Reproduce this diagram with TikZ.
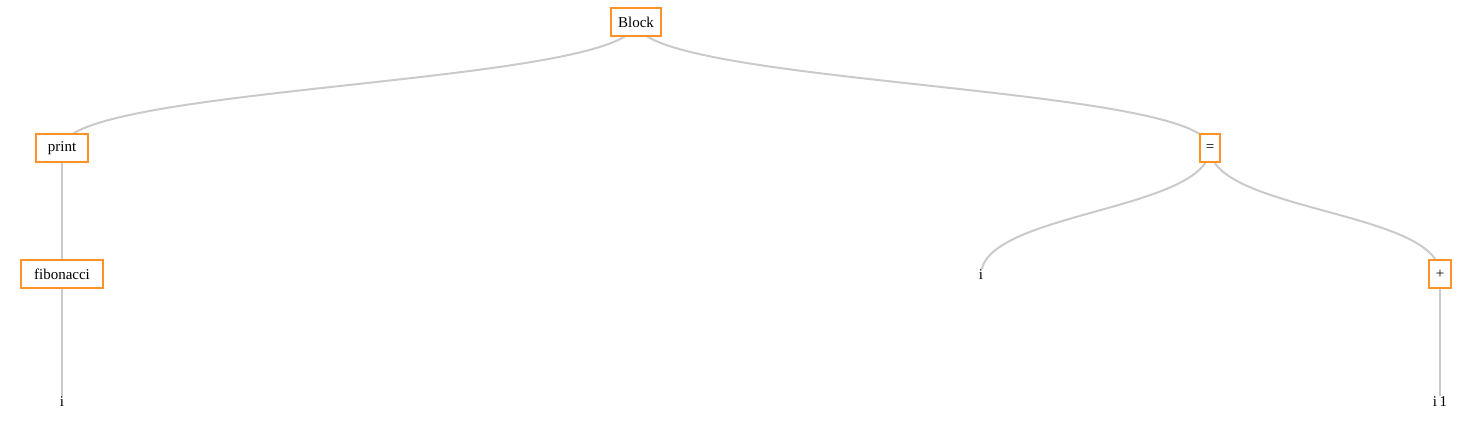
\documentclass[tikz,border=0pt]{standalone}
\usepackage{fontspec}
\setmainfont{Liberation Serif}
\usetikzlibrary{backgrounds}
\definecolor{boxorange}{RGB}{255,146,38}
\definecolor{linkgray}{RGB}{202,202,202}
\tikzset{
  opbox/.style={draw=boxorange, line width=1.5pt, fill=white, inner xsep=3pt, inner ysep=0pt, minimum height=21pt, font=\fontsize{11.25}{13}\selectfont},
  leaf/.style={fill=white, inner sep=0.6pt, font=\fontsize{11.25}{13}\selectfont},
  link/.style={draw=linkgray, line width=1.5pt}
}
\begin{document}
\begin{tikzpicture}[x=0.75pt, y=-0.75pt]
\useasboundingbox (0,0) rectangle (1483,445);
\node[opbox, minimum width=38pt] (block) at (636,22) {Block};
\node[opbox, minimum width=38.5pt] (print) at (62,148) {print};
\node[opbox, minimum width=61pt] (fib) at (62,274) {fibonacci};
\node[leaf] (i1) at (62,402) {i};
\node[opbox, minimum width=15.5pt] (assign) at (1210,148) {=};
\node[leaf] (i2) at (981,275) {i};
\node[opbox, minimum width=16pt] (plus) at (1440,274) {+};
\node[leaf] (i3) at (1440,402) {i\,1};
\begin{scope}[on background layer]
\draw[link] (block.center) .. controls +(0,63) and +(0,-63) .. (print.center);
\draw[link] (block.center) .. controls +(0,63) and +(0,-63) .. (assign.center);
\draw[link] (print.center) -- (fib.center);
\draw[link] (fib.center) -- (i1.center);
\draw[link] (assign.center) .. controls +(0,63) and +(0,-63) .. (i2.center);
\draw[link] (assign.center) .. controls +(0,63) and +(0,-63) .. (plus.center);
\draw[link] (plus.center) -- (i3.center);
\end{scope}
\end{tikzpicture}
\end{document}
